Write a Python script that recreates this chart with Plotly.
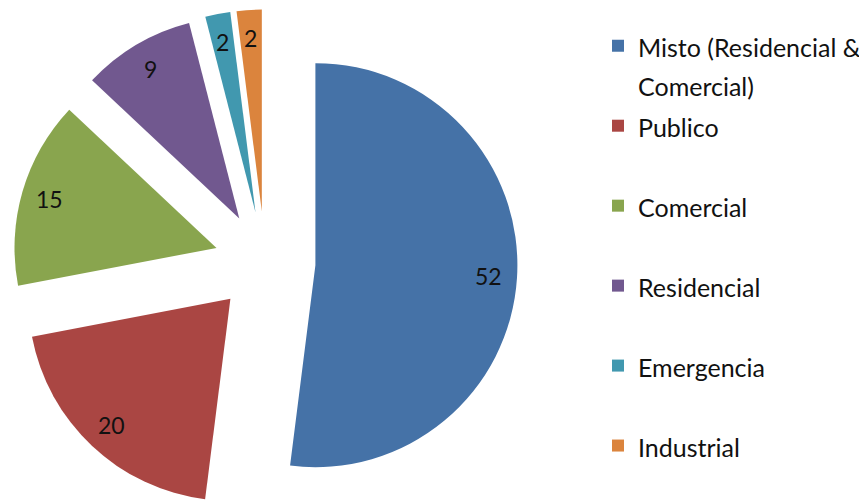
import math
import plotly.graph_objects as go

# ---- data ----
labels = ["Misto (Residencial & Comercial)", "Publico", "Comercial",
          "Residencial", "Emergencia", "Industrial"]
values = [52, 20, 15, 9, 2, 2]
colors = ["#4572A7", "#AA4643", "#89A54E", "#71588F", "#4198AF", "#DB843D"]

# ---- layout constants ----
W, H = 867, 540          # page shows the figure offset by the body margin
PULL = 0.25
CX, CY, R = 257, 254, 202   # wanted pie centre / radius (figure px)
EXT = R * (1 + PULL)
DOM_X = [(CX - EXT) / W, (CX + EXT) / W]
DOM_Y = [1 - (CY + EXT) / H, 1 - (CY - EXT) / H]
FONT = "Lato, 'Open Sans', sans-serif"
LEG_BASE = 29.6    # sets legend line pitch
LEG_SIZE = 25      # visible legend text size
LABEL_R = 0.86     # radial position of the value labels (fraction of r)


def legend_text(lbl):
    # wrap long label onto two lines, pad every entry to two lines
    if "&" in lbl:
        parts = [lbl[: lbl.index("&") + 1], lbl[lbl.index("&") + 2:]]
    else:
        parts = [lbl]
    while len(parts) < 2:
        parts.append(" ")
    return "<br>".join(f"<span style='font-size:{LEG_SIZE}px'>{p}</span>" for p in parts)


fig = go.Figure(go.Pie(
    labels=[legend_text(l) for l in labels],
    values=values,
    marker=dict(colors=colors, line=dict(width=0)),
    pull=[PULL] * len(values),
    sort=False,
    direction="clockwise",
    rotation=0,
    textinfo="none",
    hovertext=labels,
    hoverinfo="text+value",
    domain=dict(x=DOM_X, y=DOM_Y),
))

# value labels placed along each slice's mid angle
w_px = W * (DOM_X[1] - DOM_X[0])
h_px = H * (DOM_Y[1] - DOM_Y[0])
r = min(w_px, h_px) / (2 * (1 + PULL))
cx = W * (DOM_X[0] + DOM_X[1]) / 2
cy = H * (1 - (DOM_Y[0] + DOM_Y[1]) / 2)
total = sum(values)
cum = 0
annotations = []
for v in values:
    mid = math.radians(360 * (cum + v / 2) / total)
    cum += v
    d = PULL * r + LABEL_R * r
    px = cx + d * math.sin(mid)
    py = cy - d * math.cos(mid)
    annotations.append(dict(
        x=px / W, y=1 - py / H, xref="paper", yref="paper",
        text=str(v), showarrow=False,
        font=dict(family=FONT, size=23, color="#111111"),
        xanchor="center", yanchor="middle",
    ))

fig.update_layout(
    width=W, height=H,
    margin=dict(l=0, r=0, t=0, b=0),
    paper_bgcolor="white",
    plot_bgcolor="white",
    font=dict(family=FONT, color="#111111"),
    annotations=annotations,
    showlegend=True,
    legend=dict(
        x=590 / W, y=1 - 12 / H, xanchor="left", yanchor="top",
        font=dict(family=FONT, size=LEG_BASE, color="#111111"),
        valign="top", traceorder="normal",
        bgcolor="rgba(0,0,0,0)",
    ),
)

fig.write_html("out.html")
